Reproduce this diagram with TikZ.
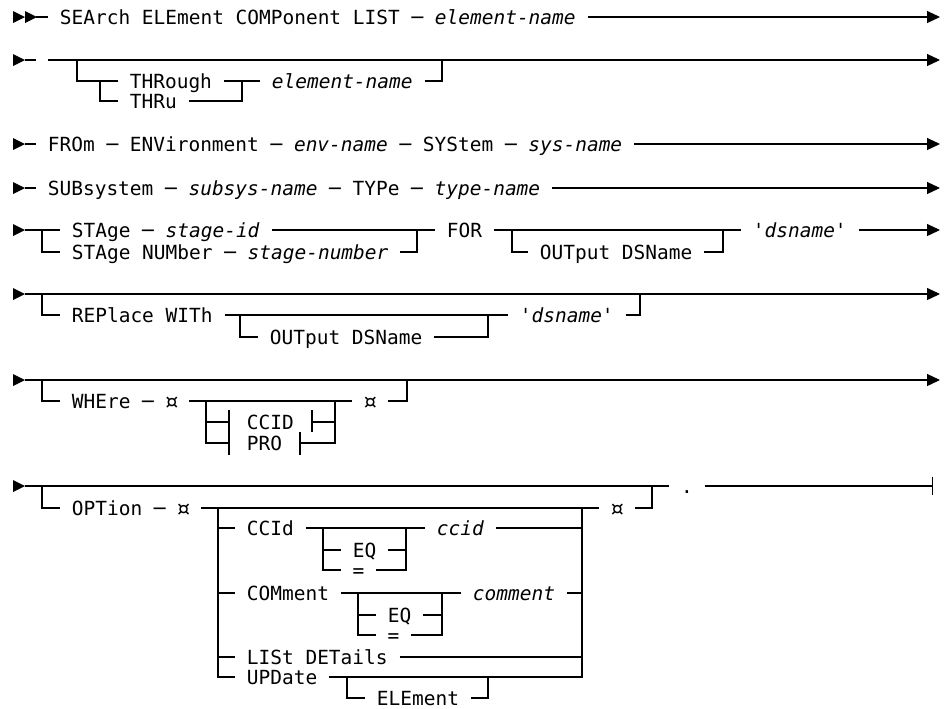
\documentclass[tikz,border=0pt]{standalone}
\usepackage{fontspec}
\setmonofont{DejaVu Sans Mono}
\usetikzlibrary{arrows.meta,positioning}
\newcommand{\curr}{\makebox[0.602em]{\raisebox{-0.1em}{\scalebox{1.3}{¤}}}}

\begin{document}
\begin{tikzpicture}[x=0.75pt,y=-0.75pt,line width=0.9pt,
  tok/.style={font=\ttfamily\fontsize{14.6}{17}\selectfont,inner xsep=8.5pt,inner ysep=0pt,text height=10.6pt,text depth=0pt,anchor=west},
  toarrow/.style={-{Triangle[length=9.75pt,width=9pt]}},
  endbar/.style={-{Bar[width=14pt]}},
  tri/.pic={\fill (0,-6) -- (12,0) -- (0,6) -- cycle;}]
\useasboundingbox (0,0) rectangle (945,708);

% row 1
\pic at (13,17) {tri};
\pic at (25,17) {tri};
\node[tok] (search) at (48,17) {SEArch ELEment COMPonent LIST ─ \textit{element-name}};
\coordinate (r1) at (36,17);
\coordinate (r1e) at (940,17);
\draw (r1) -- (search.west);
\draw[toarrow] (search.east) -- (r1e);

% row 2
\pic at (13,60) {tri};
\coordinate (r2a) at (25,60);
\coordinate (r2b) at (36,60);
\coordinate (r2s) at (48,60);
\coordinate (r2e) at (940,60);
\draw (r2a) -- (r2b);
\draw[toarrow] (r2s) -- (r2e);
\node[tok] (thr) at (118,81) {THRough};
\node[tok] (thru) at (118,101) {THRu};
\node[tok] (elem) at (260,81) {\textit{element-name}};
\coordinate (j2a) at (77,60);
\coordinate (j2b) at (100,81);
\coordinate (j2c) at (242,81);
\coordinate (j2d) at (442,60);
\draw (j2a) |- (thr.west);
\draw (j2b) |- (thru.west);
\draw (thr.east) -- (elem.west);
\draw (thru.east) -| (j2c);
\draw (elem.east) -| (j2d);

% row 3
\pic at (13,144) {tri};
\node[tok] (from) at (36,144) {FROm ─ ENVironment ─ \textit{env-name} ─ SYStem ─ \textit{sys-name}};
\coordinate (r3) at (25,144);
\coordinate (r3e) at (940,144);
\draw (r3) -- (from.west);
\draw[toarrow] (from.east) -- (r3e);

% row 4
\pic at (13,188) {tri};
\node[tok] (subsys) at (36,188) {SUBsystem ─ \textit{subsys-name} ─ TYPe ─ \textit{type-name}};
\coordinate (r4) at (25,188);
\coordinate (r4e) at (940,188);
\draw (r4) -- (subsys.west);
\draw[toarrow] (subsys.east) -- (r4e);

% row 5
\pic at (13,230) {tri};
\node[tok] (stg) at (60,230) {STAge ─ \textit{stage-id}};
\node[tok] (stgnum) at (60,252) {STAge NUMber ─ \textit{stage-number}};
\node[tok] (for) at (435,230) {FOR};
\node[tok] (out1) at (528,252) {OUTput DSName};
\node[tok] (ds1) at (741,230) {'\textit{dsname}'};
\coordinate (r5) at (25,230);
\coordinate (j5a) at (42,230);
\coordinate (j5b) at (417,230);
\coordinate (j5c) at (512,230);
\coordinate (j5d) at (723,230);
\coordinate (r5e) at (940,230);
\draw (r5) -- (stg.west);
\draw (j5a) |- (stgnum.west);
\draw (stg.east) -- (for.west);
\draw (stgnum.east) -| (j5b);
\draw (for.east) -- (ds1.west);
\draw (j5c) |- (out1.west);
\draw (out1.east) -| (j5d);
\draw[toarrow] (ds1.east) -- (r5e);

% row 6
\pic at (13,294) {tri};
\coordinate (r6) at (25,294);
\coordinate (r6e) at (940,294);
\draw[toarrow] (r6) -- (r6e);
\node[tok] (repl) at (60,315) {REPlace WITh};
\node[tok] (out2) at (258,337) {OUTput DSName};
\node[tok] (ds2) at (508,315) {'\textit{dsname}'};
\coordinate (j6a) at (42,294);
\coordinate (j6b) at (240,315);
\coordinate (j6c) at (488,315);
\coordinate (j6d) at (640,294);
\draw (j6a) |- (repl.west);
\draw (repl.east) -- (ds2.west);
\draw (j6b) |- (out2.west);
\draw (out2.east) -| (j6c);
\draw (ds2.east) -| (j6d);

% row 7
\pic at (13,380) {tri};
\coordinate (r7) at (25,380);
\coordinate (r7e) at (940,380);
\draw[toarrow] (r7) -- (r7e);
\node[tok] (where) at (60,401) {WHEre ─ \curr};
\node[tok,anchor=center] (curw) at (370,401) {\curr};
\node[tok] (ccid) at (235,422) {CCID};
\node[tok] (pro) at (235,443) {PRO};
\coordinate (j7a) at (42,380);
\coordinate (j7b) at (407,380);
\coordinate (jw1) at (206,401);
\coordinate (jw2) at (335,401);
\coordinate (lbt) at (229,410);
\coordinate (lbb) at (229,455);
\coordinate (rbt) at (312,410);
\coordinate (rbb) at (300,455);
\draw (j7a) |- (where.west);
\draw (where.east) -- (curw.west);
\draw (curw.east) -| (j7b);
\draw (lbt) -- (lbb);
\draw (jw1) |- (lbb |- pro);
\draw (jw1 |- ccid) -- (lbt |- ccid);
\draw (rbt) -- ++(0,22);
\draw (rbb) -- ++(0,-23);
\draw (rbt |- ccid) -| (jw2);
\draw (rbb |- pro) -| (jw2);

% row 8
\pic at (13,486) {tri};
\coordinate (r8) at (25,486);
\coordinate (r8e) at (933,486);
\node[tok,anchor=center] (dot) at (687,486) {.};
\draw (r8) -- (dot.west);
\draw[endbar] (dot.east) -- (r8e);
\node[tok] (option) at (60,508) {OPTion ─ \curr};
\node[tok,anchor=center] (curo) at (617,508) {\curr};
\coordinate (j8a) at (42,486);
\coordinate (j8b) at (652,486);
\draw (j8a) |- (option.west);
\draw (option.east) -- (curo.west);
\draw (curo.east) -| (j8b);

% option list
\node[tok] (ccidkw) at (235,528) {CCId};
\node[tok] (ccidv) at (425,528) {\textit{ccid}};
\node[tok] (eqa) at (341,550) {EQ};
\node[tok,anchor=center] (eqsa) at (358.5,570) {=};
\node[tok] (cmt) at (235,593) {COMment};
\node[tok] (cmtv) at (461,593) {\textit{comment}};
\node[tok] (eqb) at (376,615) {EQ};
\node[tok,anchor=center] (eqsb) at (393.5,635) {=};
\node[tok] (lst) at (235,657) {LISt DETails};
\node[tok] (upd) at (235,677) {UPDate};
\node[tok] (elm) at (365,698) {ELEment};
\coordinate (j8c) at (218,508);
\coordinate (j8d) at (582,508);
\coordinate (ja1) at (323,528);
\coordinate (ja2) at (406,528);
\coordinate (jb1) at (358,593);
\coordinate (jb2) at (442,593);
\coordinate (ju1) at (347,677);
\coordinate (ju2) at (488,677);
\draw (j8c) |- (upd.west);
\draw (j8c |- ccidkw) -- (ccidkw.west);
\draw (j8c |- cmt) -- (cmt.west);
\draw (j8c |- lst) -- (lst.west);
\draw (upd.east) -| (j8d);
\draw (ccidkw.east) -- (ccidv.west);
\draw (ccidv.east) -- (j8d |- ccidv);
\draw (cmt.east) -- (cmtv.west);
\draw (cmtv.east) -- (j8d |- cmtv);
\draw (lst.east) -- (j8d |- lst);
\draw (ja1) |- (eqsa.west);
\draw (ja1 |- eqa) -- (eqa.west);
\draw (eqa.east) -- (ja2 |- eqa);
\draw (eqsa.east) -| (ja2);
\draw (jb1) |- (eqsb.west);
\draw (jb1 |- eqb) -- (eqb.west);
\draw (eqb.east) -- (jb2 |- eqb);
\draw (eqsb.east) -| (jb2);
\draw (ju1) |- (elm.west);
\draw (elm.east) -| (ju2);
\end{tikzpicture}
\end{document}
